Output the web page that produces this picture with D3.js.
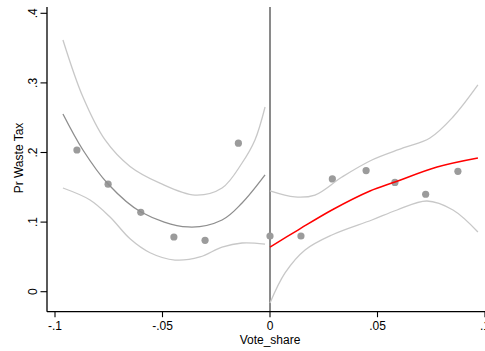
<!DOCTYPE html>
<html>
<head>
<meta charset="utf-8">
<script src="https://cdn.jsdelivr.net/npm/d3@7"></script>
<style>
  html, body { margin: 0; padding: 0; background: #fff; }
  svg { display: block; }
  text { font-family: "Liberation Sans", Arial, Helvetica, sans-serif; fill: #000; }
</style>
</head>
<body>
<svg id="chart" width="485" height="351"></svg>
<script>
// Binned means of the outcome by vote share
const binX = [-0.0898, -0.0753, -0.0601, -0.0447, -0.0302, -0.0147, 0.0, 0.0144, 0.029, 0.0447, 0.0581, 0.0724, 0.0874];
const binY = [0.2036, 0.1545, 0.114, 0.0786, 0.0738, 0.2134, 0.080, 0.080, 0.162, 0.174, 0.157, 0.140, 0.173];

// Left of the cutoff: fitted curve and confidence band
const leftFitX = [-0.0963, -0.087, -0.0753, -0.060, -0.0381, -0.0223, -0.013, -0.0023];
const leftFitY = [0.2553, 0.2036, 0.1547, 0.1145, 0.0930, 0.1030, 0.1274, 0.1677];
const leftHiX = [-0.0963, -0.087, -0.0767, -0.0651, -0.0512, -0.0349, -0.0223, -0.013, -0.007, -0.0023];
const leftHiY = [0.3617, 0.2797, 0.2180, 0.1800, 0.1560, 0.1389, 0.1490, 0.1849, 0.2180, 0.2654];
const leftLoX = [-0.0963, -0.0837, -0.0744, -0.0651, -0.0558, -0.0442, -0.0326, -0.0223, -0.013, -0.0023];
const leftLoY = [0.149, 0.1318, 0.1073, 0.0760, 0.0560, 0.0455, 0.0499, 0.0642, 0.0700, 0.0685];

// Right of the cutoff: fitted curve and confidence band
const rightFitX = [0.0, 0.013, 0.0288, 0.0465, 0.0581, 0.0777, 0.0967];
const rightFitY = [0.0642, 0.0886, 0.1174, 0.1447, 0.1576, 0.1792, 0.1922];
const rightHiX = [0.0, 0.0116, 0.0209, 0.0335, 0.0474, 0.0619, 0.0744, 0.0851, 0.0967];
const rightHiY = [0.1447, 0.1361, 0.1389, 0.1648, 0.1892, 0.2065, 0.2209, 0.2510, 0.2970];
const rightLoX = [0.0, 0.007, 0.0163, 0.0288, 0.0474, 0.0591, 0.073, 0.0851, 0.0967];
const rightLoY = [-0.0162, 0.0269, 0.0599, 0.0815, 0.1030, 0.1174, 0.1303, 0.1174, 0.0858];

// Axis ticks
const xTicks = [-0.1, -0.05, 0, 0.05, 0.1];
const xTickLabels = ["-.1", "-.05", "0", ".05", ".1"];
const yTicks = [0, 0.1, 0.2, 0.3, 0.4];
const yTickLabels = ["0", ".1", ".2", ".3", ".4"];

const svg = d3.select("#chart");

const x = d3.scaleLinear().domain([-0.1, 0.1]).range([55, 485]);
const y = d3.scaleLinear().domain([0, 0.4]).range([291.7, 13.3]);

const plotLeft = 47, plotBottom = 311.7, plotTop = 7, plotRight = 485;

const zip = (xs, ys) => xs.map((v, i) => [v, ys[i]]);
const line = d3.line().x(d => x(d[0])).y(d => y(d[1])).curve(d3.curveCatmullRom.alpha(0.5));

// Cutoff line
svg.append("line")
  .attr("x1", x(0)).attr("x2", x(0))
  .attr("y1", plotTop).attr("y2", plotBottom)
  .attr("stroke", "#8a8a8a").attr("stroke-width", 2);

// Bin means
svg.append("g").selectAll("circle")
  .data(zip(binX, binY))
  .join("circle")
  .attr("cx", d => x(d[0])).attr("cy", d => y(d[1]))
  .attr("r", 3.6).attr("fill", "#9b9b9b");

// Confidence bands
[[leftHiX, leftHiY], [leftLoX, leftLoY], [rightHiX, rightHiY], [rightLoX, rightLoY]].forEach(([xs, ys]) => {
  svg.append("path").datum(zip(xs, ys))
    .attr("d", line).attr("fill", "none")
    .attr("stroke", "#c8c8c8").attr("stroke-width", 1.3);
});

// Fitted curves
svg.append("path").datum(zip(leftFitX, leftFitY))
  .attr("d", line).attr("fill", "none")
  .attr("stroke", "#8e8e8e").attr("stroke-width", 1.3);
svg.append("path").datum(zip(rightFitX, rightFitY))
  .attr("d", line).attr("fill", "none")
  .attr("stroke", "#ff0000").attr("stroke-width", 1.5);

// Axes
const axisG = svg.append("g");
axisG.append("line")
  .attr("x1", plotLeft).attr("x2", plotLeft)
  .attr("y1", plotTop).attr("y2", plotBottom)
  .attr("stroke", "#000").attr("stroke-width", 1.3);
axisG.append("line")
  .attr("x1", plotLeft).attr("x2", plotRight)
  .attr("y1", plotBottom).attr("y2", plotBottom)
  .attr("stroke", "#000").attr("stroke-width", 1.3);

// Y ticks and rotated labels
yTicks.forEach((t, i) => {
  axisG.append("line")
    .attr("x1", plotLeft - 6.5).attr("x2", plotLeft)
    .attr("y1", y(t)).attr("y2", y(t))
    .attr("stroke", "#000").attr("stroke-width", 1.1);
  axisG.append("text")
    .attr("transform", `translate(37,${y(t)}) rotate(-90)`)
    .attr("text-anchor", "middle")
    .attr("font-size", 12)
    .text(yTickLabels[i]);
});

// X ticks and labels
xTicks.forEach((t, i) => {
  axisG.append("line")
    .attr("x1", x(t)).attr("x2", x(t))
    .attr("y1", plotBottom).attr("y2", plotBottom + 5.5)
    .attr("stroke", "#000").attr("stroke-width", 1.1);
  axisG.append("text")
    .attr("x", x(t)).attr("y", 330)
    .attr("text-anchor", "middle")
    .attr("font-size", 12)
    .text(xTickLabels[i]);
});

// Axis titles
svg.append("text")
  .attr("x", x(0)).attr("y", 344)
  .attr("text-anchor", "middle")
  .attr("font-size", 12)
  .text("Vote_share");
svg.append("text")
  .attr("transform", "translate(22.5,158) rotate(-90)")
  .attr("text-anchor", "middle")
  .attr("font-size", 12)
  .text("Pr Waste Tax");
</script>
</body>
</html>
